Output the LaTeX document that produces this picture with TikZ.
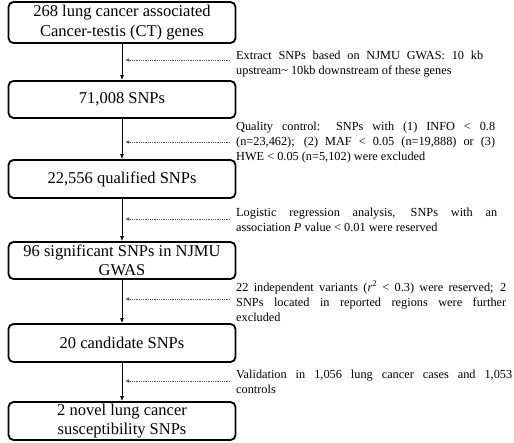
\documentclass[tikz,border=0pt]{standalone}
\usepackage{fontspec}
\setmainfont{Liberation Serif}
\usetikzlibrary{arrows.meta}
\begin{document}
\begin{tikzpicture}[x=1pt,y=-1pt,
  stepbox/.style={draw, line width=1.8pt, rounded corners=5pt, minimum width=227pt, inner sep=0pt, align=center, font=\fontsize{16.5}{19.5}\selectfont},
  flow/.style={line width=0.9pt, -{Latex[length=5pt,width=4pt]}},
  note/.style={anchor=north west, inner sep=0pt, align=justify, font=\fontsize{12.3}{15}\selectfont},
  dotarrow/.style={densely dotted, line width=0.8pt, black!65, -{Latex[length=4pt,width=3.5pt]}}]
\useasboundingbox (0,0) rectangle (514,443);
\node[stepbox, minimum height=41pt] (b1) at (122,22.5) {268 lung cancer associated\\Cancer-testis (CT) genes};
\node[stepbox, minimum height=37pt] (b2) at (122,99.5) {71,008 SNPs};
\node[stepbox, minimum height=38pt] (b3) at (122,179) {22,556 qualified SNPs};
\node[stepbox, minimum height=37pt] (b4) at (122,260.5) {96 significant SNPs in NJMU\\GWAS};
\node[stepbox, minimum height=38pt] (b5) at (122,343) {20 candidate SNPs};
\node[stepbox, minimum height=38pt] (b6) at (122,421) {2 novel lung cancer\\susceptibility SNPs};
\draw[flow] (b1) -- (b2);
\draw[flow] (b2) -- (b3);
\draw[flow] (b3) -- (b4);
\draw[flow] (b4) -- (b5);
\draw[flow] (b5) -- (b6);
\node[note, text width=247pt] (n1) at (236,49) {\rule{0pt}{10pt}Extract SNPs based on NJMU GWAS: 10 kb\linebreak upstream\textasciitilde{} 10kb downstream of these genes};
\node[note, text width=259pt] (n2) at (236,120) {\rule{0pt}{10pt}Quality control: SNPs with (1) INFO < 0.8\linebreak (n=23,462); (2) MAF < 0.05 (n=19,888) or (3)\linebreak HWE < 0.05 (n=5,102) were excluded};
\node[note, text width=261pt] (n3) at (236,206) {\rule{0pt}{10pt}Logistic regression analysis, SNPs with an\linebreak association \textit{P} value < 0.01 were reserved};
\node[note, text width=270pt] (n4) at (236,281) {\rule{0pt}{10pt}22 independent variants (\textit{r}\textsuperscript{2} < 0.3) were reserved; 2\linebreak SNPs located in reported regions were further\linebreak excluded};
\node[note, text width=276pt] (n5) at (236,368) {\rule{0pt}{10pt}Validation in 1,056 lung cancer cases and 1,053\linebreak controls};
\coordinate (s1) at (230,60);  \coordinate (e1) at (125,60);
\coordinate (s2) at (230,142); \coordinate (e2) at (125,142);
\coordinate (s3) at (230,219); \coordinate (e3) at (125,219);
\coordinate (s4) at (230,299); \coordinate (e4) at (125,299);
\coordinate (s5) at (230,381); \coordinate (e5) at (125,381);
\draw[dotarrow] (s1) -- (e1);
\draw[dotarrow] (s2) -- (e2);
\draw[dotarrow] (s3) -- (e3);
\draw[dotarrow] (s4) -- (e4);
\draw[dotarrow] (s5) -- (e5);
\end{tikzpicture}
\end{document}
